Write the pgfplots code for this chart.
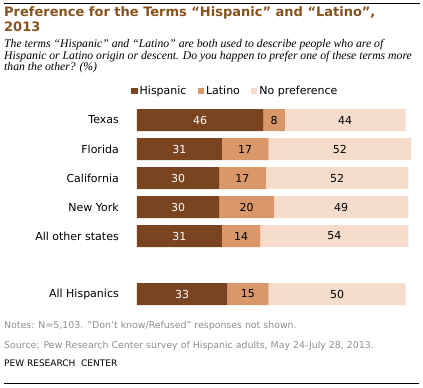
\documentclass[border=0pt]{standalone}
\usepackage{fontspec}
\setmainfont{DejaVu Sans}
\newfontfamily\subfont{Liberation Serif}
\usepackage{pgfplots}
\usepackage{pgfplotstable}
\pgfplotsset{compat=1.18}
\definecolor{hisp}{HTML}{7B4420}
\definecolor{lat}{HTML}{D9976A}
\definecolor{nop}{HTML}{F6DCCB}
\definecolor{ttl}{HTML}{86531F}
\definecolor{notegray}{HTML}{8E8E8E}
\pgfplotstableread{
y h l n
0 46 8 44
1 31 17 52
2 30 17 52
3 30 20 49
4 31 14 54
6 33 15 50
}\data
\begin{document}
\begin{tikzpicture}
\path[use as bounding box] (0pt,0pt) rectangle (423pt,388pt);
\draw[line width=1pt] (4pt,384pt) -- (420pt,384pt);
\draw[line width=1pt] (4pt,4pt) -- (419pt,4pt);
\node[anchor=base west, inner sep=0pt, text=ttl, font=\bfseries\fontsize{13}{15}\selectfont] at (4pt,371pt) {Preference for the Terms “Hispanic” and “Latino”,};
\node[anchor=base west, inner sep=0pt, text=ttl, font=\bfseries\fontsize{13}{15}\selectfont] at (4pt,356pt) {2013};
\node[anchor=base west, inner sep=0pt, font=\subfont\itshape\fontsize{11.7}{12}\selectfont] at (4pt,340pt) {The terms “Hispanic” and “Latino” are both used to describe people who are of};
\node[anchor=base west, inner sep=0pt, font=\subfont\itshape\fontsize{11.7}{12}\selectfont] at (4pt,328.5pt) {Hispanic or Latino origin or descent. Do you happen to prefer one of these terms more};
\node[anchor=base west, inner sep=0pt, font=\subfont\itshape\fontsize{11.7}{12}\selectfont] at (4pt,317.3pt) {than the other? (\%)};
\node[anchor=base west, inner sep=0pt, text=notegray, font=\fontsize{9.4}{11}\selectfont] at (4pt,59pt) {Notes: N=5,103. "Don't know/Refused" responses not shown.};
\node[anchor=base west, inner sep=0pt, text=notegray, font=\fontsize{9.4}{11}\selectfont] at (4pt,39pt) {Source: Pew Research Center survey of Hispanic adults, May 24-July 28, 2013.};
\node[anchor=base west, inner sep=0pt, font=\fontsize{9}{10}\selectfont] at (4pt,21pt) {PEW RESEARCH\ \ CENTER};
\begin{axis}[
  at={(137pt,79.5pt)}, anchor=south west,
  scale only axis, width=274pt, height=203pt,
  xbar stacked, bar width=22pt,
  xmin=0, xmax=100, ymin=-0.5, ymax=6.5, y dir=reverse,
  axis line style={draw=none}, major tick length=0pt,
  xtick=\empty, ytick={0,1,2,3,4,6},
  yticklabels={Texas,Florida,California,New York,All other states,All Hispanics},
  yticklabel style={font=\fontsize{11}{13}\selectfont, anchor=east, inner sep=0pt, xshift=-18pt},
  clip=false,
  point meta=explicit,
  /pgf/number format/assume math mode=true,
  nodes near coords={\pgfmathprintnumber{\pgfplotspointmeta}},
  nodes near coords style={font=\fontsize{11}{13}\selectfont, anchor=center, inner sep=0pt},
  legend style={draw=none, fill=none, legend columns=3, font=\fontsize{11}{13}\selectfont,
    at={(-0.022,1.071)}, anchor=west, inner sep=0pt,
    /tikz/every even column/.append style={column sep=9pt}},
  legend image code/.code={\fill[#1] (0pt,-3.2pt) rectangle (6.5pt,3.2pt);},
]
\addplot[fill=hisp, draw=none, nodes near coords style={text=white}]
  table[x=h, y=y, meta=h] {\data};
\addlegendentry{Hispanic}
\addplot[fill=lat, draw=none]
  table[x=l, y=y, meta=l] {\data};
\addlegendentry{Latino}
\addplot[fill=nop, draw=none]
  table[x=n, y=y, meta=n] {\data};
\addlegendentry{No preference}
\end{axis}
\end{tikzpicture}
\end{document}
